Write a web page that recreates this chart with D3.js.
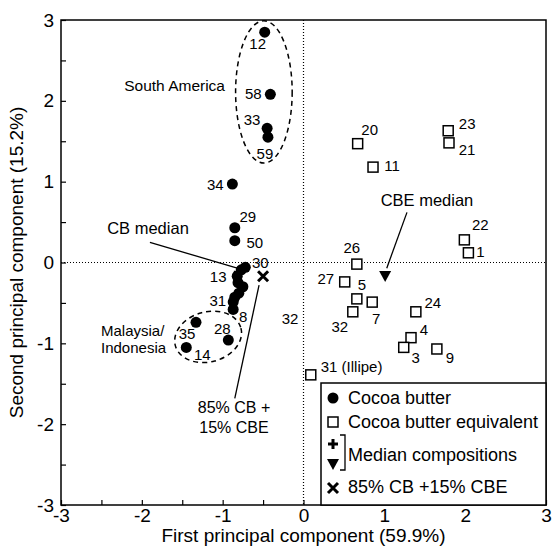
<!DOCTYPE html>
<html>
<head>
<meta charset="utf-8">
<script src="https://cdn.jsdelivr.net/npm/d3@7"></script>
<style>
  body { margin: 0; background: #fff; }
  text { font-family: "Liberation Sans", Arial, sans-serif; fill: #000; }
</style>
</head>
<body>
<svg id="chart"></svg>
<script>
// cocoa butter samples (PC1, PC2)
const cbIds = ["12", "58", "33", "59", "34", "29", "50", "30", "", "13", "", "", "", "31", "", "8", "28", "35", "14"];
const cbX = [-0.48, -0.41, -0.45, -0.44, -0.88, -0.85, -0.85, -0.72, -0.77, -0.82, -0.81, -0.75, -0.80, -0.85, -0.87, -0.87, -0.93, -1.33, -1.45];
const cbY = [2.85, 2.08, 1.66, 1.55, 0.97, 0.43, 0.27, -0.06, -0.09, -0.17, -0.25, -0.30, -0.38, -0.43, -0.49, -0.58, -0.96, -0.74, -1.05];

// cocoa butter equivalents
const cbeIds = ["20", "11", "23", "21", "22", "1", "26", "27", "5", "7", "32", "24", "4", "3", "9", "31 (Illipe)"];
const cbeX = [0.67, 0.86, 1.79, 1.80, 1.99, 2.04, 0.66, 0.51, 0.66, 0.85, 0.61, 1.39, 1.33, 1.24, 1.65, 0.09];
const cbeY = [1.47, 1.18, 1.63, 1.48, 0.28, 0.12, -0.02, -0.24, -0.45, -0.49, -0.61, -0.61, -0.93, -1.05, -1.07, -1.39];

// medians and mixture
const cbMedian = [-0.80, -0.12];
const cbeMedian = [1.01, -0.18];
const mixture = [-0.50, -0.17];

const xTicks = [-3, -2, -1, 0, 1, 2, 3];
const yTicks = [-3, -2, -1, 0, 1, 2, 3];
const minorTicks = [-3, -2.5, -2, -1.5, -1, -0.5, 0, 0.5, 1, 1.5, 2, 2.5, 3];

// label offsets in px (layout only)
const cbLabelPos = {
  "12": [-7, 11], "58": [-17, -1], "33": [-15, -9], "59": [-3, 16], "34": [-17, 0],
  "29": [13, -11], "50": [20, 2], "30": [15, -5], "13": [-19, 0], "31": [-17, 3],
  "8": [10, 7], "28": [-6, -12], "35": [-9, 11], "14": [16, 7]
};
const cbeLabelPos = {
  "20": [12, -14], "11": [19, -2], "23": [19, -7], "21": [18, 7], "22": [16, -15],
  "1": [12, -1], "26": [-5, -17], "27": [-19, -3], "5": [5, -14], "7": [4, 16],
  "32": [-13, 15], "24": [17, -9], "4": [13, -8], "3": [12, 10], "9": [13, 9]
};

const W = 553, H = 548;
const pLeft = 61, pRight = 546, pTop = 20, pBottom = 505;

const svg = d3.select("#chart").attr("width", W).attr("height", H);

const x = d3.scaleLinear().domain([-3, 3]).range([pLeft, pRight]);
const y = d3.scaleLinear().domain([-3, 3]).range([pBottom, pTop]);

// zero lines
svg.append("line")
  .attr("x1", x(0)).attr("x2", x(0)).attr("y1", pTop).attr("y2", pBottom)
  .attr("stroke", "#000").attr("stroke-width", 1.2).attr("stroke-dasharray", "1,2");
svg.append("line")
  .attr("x1", pLeft).attr("x2", pRight).attr("y1", y(0)).attr("y2", y(0))
  .attr("stroke", "#000").attr("stroke-width", 1.2).attr("stroke-dasharray", "1,2");

// axes
const xAxis = d3.axisBottom(x).tickValues(minorTicks).tickSizeInner(-5).tickSizeOuter(0).tickPadding(4)
  .tickFormat(d => xTicks.includes(d) ? d : "");
const yAxis = d3.axisLeft(y).tickValues(minorTicks).tickSizeInner(-5).tickSizeOuter(0).tickPadding(7)
  .tickFormat(d => yTicks.includes(d) ? d : "");

const gx = svg.append("g").attr("transform", "translate(0," + pBottom + ")").call(xAxis);
const gy = svg.append("g").attr("transform", "translate(" + pLeft + ",0)").call(yAxis);
[gx, gy].forEach(g => {
  g.select(".domain").remove();
  g.selectAll(".tick line").attr("stroke", "#000").attr("stroke-width", 1.2);
  g.selectAll(".tick text").attr("font-size", 19).attr("font-family", "Liberation Sans, Arial, sans-serif");
});

svg.append("rect")
  .attr("x", pLeft).attr("y", pTop).attr("width", pRight - pLeft).attr("height", pBottom - pTop)
  .attr("fill", "none").attr("stroke", "#000").attr("stroke-width", 1.5);

svg.append("text")
  .attr("x", (pLeft + pRight) / 2).attr("y", 542)
  .attr("text-anchor", "middle").attr("font-size", 19)
  .text("First principal component (59.9%)");

svg.append("text")
  .attr("transform", "translate(23," + (pTop + pBottom) / 2 + ") rotate(-90)")
  .attr("text-anchor", "middle").attr("font-size", 19)
  .text("Second principal component (15.2%)");

// group ellipses
const ellipses = [
  { cx: -0.49, cy: 2.11, rx: 0.35, ry: 0.88, rot: 0 },
  { cx: -1.18, cy: -0.92, rx: 0.42, ry: 0.31, rot: -15 }
];
svg.selectAll(".grp").data(ellipses).enter().append("ellipse")
  .attr("cx", 0).attr("cy", 0)
  .attr("rx", d => x(d.rx) - x(0)).attr("ry", d => y(0) - y(d.ry))
  .attr("transform", d => "translate(" + x(d.cx) + "," + y(d.cy) + ") rotate(" + d.rot + ")")
  .attr("fill", "none").attr("stroke", "#000").attr("stroke-width", 1.5).attr("stroke-dasharray", "5,4");

// leader lines
const leaders = [
  [[-1.90, 0.25], [-0.82, -0.07]],
  [[1.28, 0.62], [1.03, -0.07]],
  [[-0.55, -0.28], [-0.85, -1.68]]
];
svg.selectAll(".leader").data(leaders).enter().append("line")
  .attr("x1", d => x(d[0][0])).attr("y1", d => y(d[0][1]))
  .attr("x2", d => x(d[1][0])).attr("y2", d => y(d[1][1]))
  .attr("stroke", "#000").attr("stroke-width", 1.3);

const plusPath = "M-5,0H5M0,-5V5";
const crossPath = "M-5,-5L5,5M-5,5L5,-5";
const triPath = "M-6,-6L6,-6L0,5Z";

// CB median (under the cluster)
svg.append("path").attr("d", plusPath)
  .attr("transform", "translate(" + x(cbMedian[0]) + "," + y(cbMedian[1]) + ")")
  .attr("stroke", "#000").attr("stroke-width", 3);

// cocoa butter points
const cb = cbIds.map((id, i) => ({ id, x: cbX[i], y: cbY[i] }));
svg.selectAll(".cb").data(cb).enter().append("circle")
  .attr("cx", d => x(d.x)).attr("cy", d => y(d.y)).attr("r", 5.5).attr("fill", "#000");

svg.selectAll(".cbl").data(cb.filter(d => d.id)).enter().append("text")
  .attr("x", d => x(d.x) + cbLabelPos[d.id][0]).attr("y", d => y(d.y) + cbLabelPos[d.id][1])
  .attr("text-anchor", "middle").attr("dominant-baseline", "central").attr("font-size", 15)
  .text(d => d.id);

// CBE points
const cbe = cbeIds.map((id, i) => ({ id, x: cbeX[i], y: cbeY[i] }));
svg.selectAll(".cbe").data(cbe).enter().append("rect")
  .attr("x", d => x(d.x) - 5).attr("y", d => y(d.y) - 5).attr("width", 10).attr("height", 10)
  .attr("fill", "#fff").attr("stroke", "#000").attr("stroke-width", 1.5);

svg.selectAll(".cbel").data(cbe).enter().append("text")
  .attr("x", d => cbeLabelPos[d.id] ? x(d.x) + cbeLabelPos[d.id][0] : x(d.x) + 10)
  .attr("y", d => cbeLabelPos[d.id] ? y(d.y) + cbeLabelPos[d.id][1] : y(d.y) - 8)
  .attr("text-anchor", d => cbeLabelPos[d.id] ? "middle" : "start")
  .attr("dominant-baseline", "central").attr("font-size", 15)
  .text(d => d.id);

// CBE median and mixture
svg.append("path").attr("d", triPath)
  .attr("transform", "translate(" + x(cbeMedian[0]) + "," + y(cbeMedian[1]) + ")")
  .attr("fill", "#000");
svg.append("path").attr("d", crossPath)
  .attr("transform", "translate(" + x(mixture[0]) + "," + y(mixture[1]) + ")")
  .attr("stroke", "#000").attr("stroke-width", 3);

// annotations
const notes = [
  { t: "South America", px: 225, py: 85, a: "end", s: 15.5 },
  { t: "CB median", px: 148, py: 228, a: "middle", s: 16.5 },
  { t: "CBE median", px: 427, py: 200, a: "middle", s: 16.5 },
  { t: "Malaysia/", px: 101, py: 330, a: "start", s: 15 },
  { t: "Indonesia", px: 101, py: 347, a: "start", s: 15 },
  { t: "32", px: 290, py: 318, a: "middle", s: 15 },
  { t: "85% CB +", px: 234, py: 407, a: "middle", s: 16 },
  { t: "15% CBE", px: 234, py: 427, a: "middle", s: 16 }
];
svg.selectAll(".note").data(notes).enter().append("text")
  .attr("x", d => d.px).attr("y", d => d.py)
  .attr("text-anchor", d => d.a).attr("dominant-baseline", "central").attr("font-size", d => d.s)
  .text(d => d.t);

// legend
const lg = svg.append("g");
lg.append("rect").attr("x", 321).attr("y", 383).attr("width", pRight - 321).attr("height", pBottom - 383)
  .attr("fill", "#fff").attr("stroke", "#000").attr("stroke-width", 1.5);
lg.append("circle").attr("cx", 333).attr("cy", 398).attr("r", 5.5).attr("fill", "#000");
lg.append("rect").attr("x", 328).attr("y", 417).attr("width", 10).attr("height", 10)
  .attr("fill", "#fff").attr("stroke", "#000").attr("stroke-width", 1.5);
lg.append("path").attr("d", plusPath).attr("transform", "translate(333,444)")
  .attr("stroke", "#000").attr("stroke-width", 3);
lg.append("path").attr("d", triPath).attr("transform", "translate(333,465)").attr("fill", "#000");
lg.append("path").attr("d", crossPath).attr("transform", "translate(333,488)")
  .attr("stroke", "#000").attr("stroke-width", 3);
lg.append("path").attr("d", "M340,435H345V470H340").attr("fill", "none")
  .attr("stroke", "#000").attr("stroke-width", 1.3);

const legendRows = [["Cocoa butter", 398], ["Cocoa butter equivalent", 422], ["Median compositions", 455], ["85% CB +15% CBE", 487]];
lg.selectAll(".lt").data(legendRows).enter().append("text")
  .attr("x", 348).attr("y", d => d[1]).attr("dominant-baseline", "central").attr("font-size", 18)
  .text(d => d[0]);
</script>
</body>
</html>
